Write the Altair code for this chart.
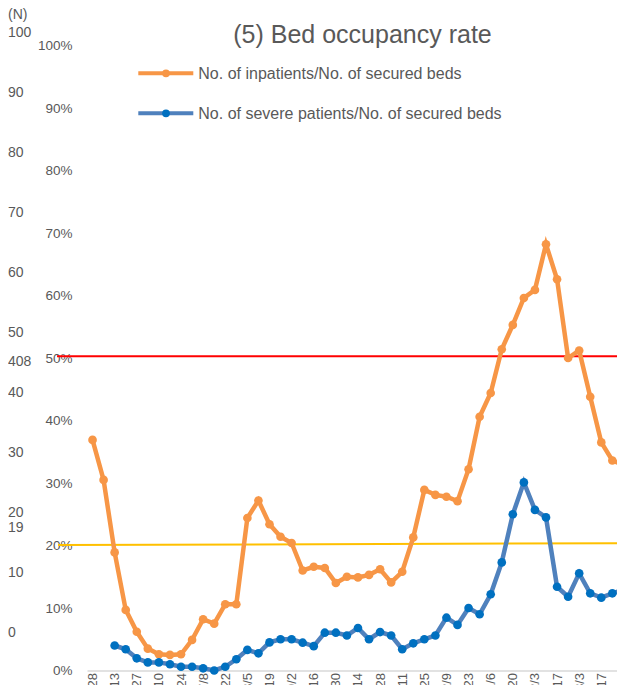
import altair as alt
import pandas as pd

# ---------------- data ----------------
dates = ["4/28", "5/6", "5/13", "5/20", "5/27", "6/3", "6/10", "6/17", "6/24", "7/1",
         "7/8", "7/15", "7/22", "7/29", "8/5", "8/12", "8/19", "8/26", "9/2", "9/9",
         "9/16", "9/23", "9/30", "10/7", "10/14", "10/21", "10/28", "11/4", "11/11", "11/18",
         "11/25", "12/2", "12/9", "12/16", "12/23", "12/30", "1/6", "1/13", "1/20", "1/27",
         "2/3", "2/10", "2/17", "2/24", "3/3", "3/10", "3/17", "3/24", "3/31", "4/7"]

inpatient_pct = [36.9, 30.5, 18.9, 9.7, 6.2, 3.5, 2.6, 2.5, 2.6, 4.9,
                 8.2, 7.5, 10.6, 10.6, 24.4, 27.2, 23.4, 21.4, 20.4, 16.0,
                 16.6, 16.4, 14.0, 15.0, 14.9, 15.3, 16.2, 14.1, 15.8, 21.3,
                 28.9, 28.1, 27.8, 27.1, 32.2, 40.6, 44.4, 51.4, 55.3, 59.6,
                 60.9, 68.2, 62.6, 50.0, 51.2, 43.8, 36.5, 33.6, 32.9, 28.5]

severe_pct = [None, None, 4.0, 3.4, 1.95, 1.3, 1.3, 1.0, 0.6, 0.6,
              0.35, 0.0, 0.6, 1.8, 3.3, 2.75, 4.5, 5.0, 5.0, 4.45,
              3.9, 6.05, 6.05, 5.6, 6.8, 5.0, 6.15, 5.6, 3.4, 4.35,
              5.0, 5.6, 8.45, 7.3, 10.0, 9.0, 12.2, 17.3, 25.0, 30.1,
              25.7, 24.5, 13.4, 11.8, 15.55, 12.35, 11.65, 12.35, 12.9, 10.5]

series_fields = ["inpatient", "severe"]
series_names = ["No. of inpatients/No. of secured beds",
                "No. of severe patients/No. of secured beds"]
line_colors = ["#F79646", "#4F81BD"]
marker_colors = ["#F79646", "#0070C0"]

pct_ticks = [0, 10, 20, 30, 40, 50, 60, 70, 80, 90, 100]
n_ticks = [0, 10, 20, 30, 40, 50, 60, 70, 80, 90, 100]
n_extra_labels = ["408", "19", "(N)"]
n_extra_values = [45.2, 17.5, 103]

red_level = 50.3
yellow_levels = [20.08, 20.37]

title_text = "(5) Bed occupancy rate"

# ---------------- style / layout ----------------
FONT = "Liberation Sans"
GREY = "#595959"
W = 530          # visible plot width (page is cut at the right edge)
SPAN = 553       # full extent of the category axis
H = 625

df = pd.DataFrame({"date": dates, "inpatient": inpatient_pct, "severe": severe_pct})

pct_scale = alt.Scale(domain=[0, 100], nice=False, zero=True)
x_enc = alt.X(
    "date:N",
    sort=dates,
    scale=alt.Scale(domain=dates, padding=0.5, range=[0, SPAN]),
    axis=alt.Axis(values=dates[::2], labelAngle=-90, ticks=False, tickSize=0,
                  domainColor="#D9D9D9", domainWidth=1.5, labelColor=GREY,
                  labelFontSize=13, labelPadding=2, title=None, grid=False,
                  labelOverlap=False, labelFont=FONT),
)
y_axis = alt.Axis(values=pct_ticks, labelExpr="datum.value + '%'", domain=False,
                  ticks=False, tickSize=0, grid=False, labelPadding=15,
                  labelColor=GREY, labelFontSize=13.5, labelFlush=False,
                  labelOverlap=False, title=None, labelFont=FONT)

layers = []

# reference lines
df_red = pd.DataFrame({"y": [red_level]})
layers.append(
    alt.Chart(df_red).mark_rule(color="#FF0000", strokeWidth=2).encode(
        y=alt.Y("y:Q", scale=pct_scale, axis=None),
        x=alt.value(-30), x2=alt.value(SPAN))
)
df_yel = pd.DataFrame({"y": [yellow_levels[0]], "y2": [yellow_levels[1]]})
layers.append(
    alt.Chart(df_yel).mark_rule(color="#FFC000", strokeWidth=2).encode(
        y=alt.Y("y:Q", scale=pct_scale, axis=None), y2="y2:Q",
        x=alt.value(-29), x2=alt.value(SPAN))
)

# series
for i, f in enumerate(series_fields):
    layers.append(
        alt.Chart(df).mark_line(color=line_colors[i], strokeWidth=4.5).encode(
            x=x_enc,
            y=alt.Y(f"{f}:Q", scale=pct_scale, axis=y_axis if i == 0 else None))
    )
    layers.append(
        alt.Chart(df).mark_point(filled=True, size=75, color=marker_colors[i], opacity=1).encode(
            x=x_enc,
            y=alt.Y(f"{f}:Q", scale=pct_scale, axis=None))
    )

# secondary (N) scale labels on far left
df_n = pd.DataFrame({"n": n_ticks + n_extra_values,
                     "label": [str(v) for v in n_ticks] + n_extra_labels})
layers.append(
    alt.Chart(df_n).mark_text(align="left", baseline="middle", fontSize=14,
                              color=GREY, font=FONT).encode(
        x=alt.value(-79),
        y=alt.Y("n:Q", scale=alt.Scale(domain=[-6.25, 97.917], nice=False, zero=False), axis=None),
        text="label:N")
)

# title
layers.append(
    alt.Chart(pd.DataFrame({"t": [title_text]})).mark_text(
        fontSize=25, align="center", baseline="alphabetic", color=GREY, font=FONT).encode(
        x=alt.value(275.5), y=alt.value(-2.5), text="t:N")
)

# legend
for i in range(2):
    ly = 27.8 + 40 * i
    dfl = pd.DataFrame({"name": [series_names[i]]})
    layers.append(
        alt.Chart(dfl).mark_rule(color=line_colors[i], strokeWidth=4).encode(
            x=alt.value(51.3), x2=alt.value(106.3), y=alt.value(ly))
    )
    layers.append(
        alt.Chart(dfl).mark_point(filled=True, size=60, color=marker_colors[i], opacity=1).encode(
            x=alt.value(79), y=alt.value(ly))
    )
    layers.append(
        alt.Chart(dfl).mark_text(align="left", baseline="middle", fontSize=16,
                                 color=GREY, font=FONT).encode(
            x=alt.value(111.3), y=alt.value(ly + 1), text="name:N")
    )

chart = alt.layer(*layers).resolve_scale(y="independent").properties(
    width=W, height=H,
    padding={"left": 79, "top": 37.5, "right": 0, "bottom": 14.5},
    autosize=alt.AutoSizeParams(type="none"),
    background="white",
).configure(font=FONT).configure_view(stroke=None)

chart.save("out.html", embed_options={"renderer": "svg", "actions": False})
